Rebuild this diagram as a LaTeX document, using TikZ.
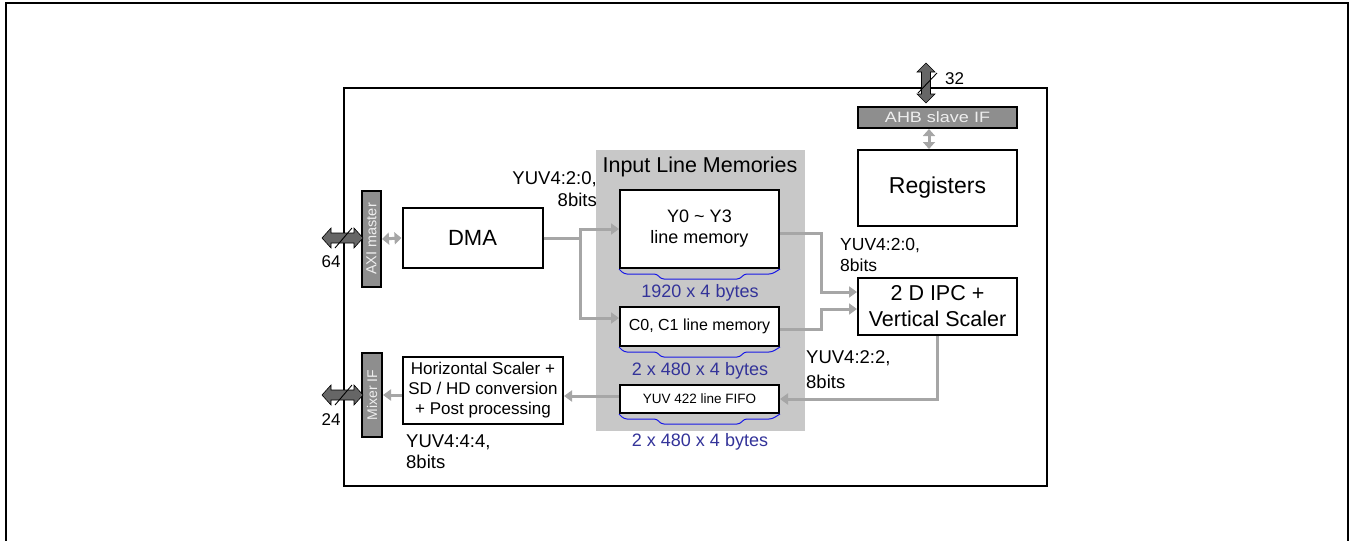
\documentclass[tikz,border=0pt]{standalone}
\usepackage{fontspec}
\setmainfont{Liberation Sans}
\usetikzlibrary{arrows.meta,calc}
\definecolor{conngray}{HTML}{A6A6A6}
\definecolor{bargray}{HTML}{8E8E8E}
\definecolor{bartext}{HTML}{EEEEEE}
\definecolor{bigarr}{HTML}{666666}
\definecolor{memback}{HTML}{C8C8C8}
\definecolor{sizeblue}{HTML}{333399}
\definecolor{wavecol}{HTML}{1A1AE6}
\newcommand{\fs}[2]{\fontsize{#1}{#2}\selectfont}
\newcommand{\memwave}[1]{\draw[wavestyle] (#1.south west) -- ++(5,5) -- ++(33,0) -- ++(4,5) -- ++(79,0) -- ++(4,-5) -- ++(28,0) -- (#1.south east);}
\begin{document}
\begin{tikzpicture}[x=1pt,y=-1pt,
  blk/.style={draw=black,line width=2pt,fill=white,inner sep=0pt,align=center},
  bar/.style={draw=black,line width=2pt,fill=bargray,inner sep=0pt,text=bartext},
  connline/.style={draw=conngray,line width=3pt},
  conn/.style={connline,-{Triangle[length=8pt,width=11pt]}},
  smallbi/.style={draw=conngray,line width=3pt,{Triangle[length=7pt,width=12pt]}-{Triangle[length=7pt,width=12pt]}},
  lbl/.style={inner sep=0pt,font=\fs{18}{21}},
  sizelbl/.style={inner sep=0pt,text=sizeblue,font=\fs{18}{21}},
  wavestyle/.style={draw=wavecol,line width=1pt,rounded corners=3pt},
  hbig/.pic={
    \filldraw[fill=bigarr,draw=black,line width=0.6pt] (-20.5,0) -- (-11.5,-10) -- (-11.5,-5) -- (11.5,-5) -- (11.5,-10) -- (20.5,0) -- (11.5,10) -- (11.5,5) -- (-11.5,5) -- (-11.5,10) -- cycle;
    \draw[line width=0.9pt] (-7.5,10) -- (9.5,-10);},
  vbig/.pic={
    \filldraw[fill=bigarr,draw=black,line width=0.6pt] (0,-20) -- (9,-11) -- (4.5,-11) -- (4.5,11) -- (9,11) -- (0,20) -- (-9,11) -- (-4.5,11) -- (-4.5,-11) -- (-9,-11) -- cycle;
    \draw[line width=0.9pt] (-8,10) -- (11,-10);}
]
\useasboundingbox (0,0) rectangle (1353,541);
% outer frame of the image
\draw[line width=2pt] (6,545) -- (6,3) -- (1348,3) -- (1348,545);
% chip frame
\draw[line width=2pt] (344,88) rectangle (1047,486);
% input line memory background
\fill[memback] (596,150) rectangle (805,431);
\node[lbl,font=\fs{21.5}{24}] (imtitle) at (700,167) {Input Line Memories};

% blocks
\node[blk,minimum width=140,minimum height=60,font=\fs{22}{26}] (dma) at (472.5,238) {DMA};
\node[blk,minimum width=159,minimum height=78,font=\fs{18}{21}] (y0) at (699.5,229) {Y0 \textasciitilde{} Y3\\line memory};
\node[blk,minimum width=159,minimum height=39,font=\fs{16}{19}] (c0) at (699.5,326.5) {C0, C1 line memory};
\node[blk,minimum width=159,minimum height=28,font=\fs{13.5}{16}] (fifo) at (699.5,399) {YUV 422 line FIFO};
\node[blk,minimum width=159,minimum height=76,font=\fs{23}{27}] (reg) at (937.5,188) {Registers};
\node[blk,minimum width=159,minimum height=57,font=\fs{21.5}{26}] (ipc) at (937.5,306.5) {2 D IPC +\\Vertical Scaler};
\node[blk,minimum width=160,minimum height=67,font=\fs{17}{20}] (hs) at (483,390.5) {Horizontal Scaler +\\SD / HD conversion\\+ Post processing};

% interface bars
\node[bar,minimum width=159,minimum height=21] (ahb) at (937.5,117.5) {\fs{15}{18}\scalebox{1.2}[1]{AHB slave IF}};
\node[bar,minimum width=19,minimum height=96] (axi) at (371.5,239) {};
\node[rotate=90,text=bartext,inner sep=0pt,font=\fs{14.5}{16}] (axitext) at (axi.center) {AXI master};
\node[bar,minimum width=20,minimum height=84] (mix) at (372,395) {};
\node[rotate=90,text=bartext,inner sep=0pt,font=\fs{14}{16}] (mixtext) at (mix.center) {Mixer IF};

% memory size braces
\memwave{y0}
\memwave{c0}
\memwave{fifo}
\node[sizelbl] (s1) at (700,293) {1920 x 4 bytes};
\node[sizelbl] (s2) at (700,371) {2 x 480 x 4 bytes};
\node[sizelbl] (s3) at (700,442) {2 x 480 x 4 bytes};

% external buses
\pic at (342.5,238) {hbig};
\pic at (342.5,395) {hbig};
\pic at (926,83) {vbig};
\node[lbl,font=\fs{17}{20}] (w64) at (331,262) {64};
\node[lbl,font=\fs{17}{20}] (w24) at (331,420) {24};
\node[lbl,font=\fs{17}{20},anchor=west] (w32) at (945,79) {32};

% small bidirectional links
\coordinate (ahbo) at ($(ahb.south)+(-8.5,0)$);
\coordinate (regi) at ($(reg.north)+(-8.5,0)$);
\draw[smallbi] (axi.east) -- (dma.west);
\draw[smallbi] (ahbo) -- (regi);

% data path connectors
\coordinate (j1) at (580,238);
\draw[connline] (dma.east) -- (j1);
\draw[conn] (j1) |- (y0.west);
\coordinate (c0in) at ($(c0.west)+(0,-8.5)$);
\draw[conn] (j1) |- (c0in);

\coordinate (bendx) at (821,0);
\coordinate (y0out) at ($(y0.east)+(0,4)$);
\coordinate (ipcin1) at ($(ipc.west)+(0,-14.5)$);
\draw[conn] (y0out) -| (ipcin1 -| bendx) -- (ipcin1);
\coordinate (c0out) at ($(c0.east)+(0,2.5)$);
\coordinate (ipcin2) at ($(ipc.west)+(0,2.5)$);
\draw[conn] (c0out) -| (ipcin2 -| bendx) -- (ipcin2);

\draw[conn] (ipc.south) |- (fifo.east);
\coordinate (fifoout) at ($(fifo.west)+(0,-3)$);
\draw[conn] (fifoout) -- (fifoout -| hs.east);
\draw[conn] (hs.west |- mix.east) -- (mix.east);

% format labels
\node[lbl,align=right,anchor=east,font=\fs{18.5}{22}] (f1) at (597,189.5) {YUV4:2:0,\\8bits};
\node[lbl,align=left,anchor=west,font=\fs{17.5}{21}] (f2) at (840,255) {YUV4:2:0,\\8bits};
\node[lbl,align=left,anchor=west,font=\fs{18.5}{25}] (f3) at (806,370) {YUV4:2:2,\\8bits};
\node[lbl,align=left,anchor=west,font=\fs{18.5}{21}] (f4) at (406,452) {YUV4:4:4,\\8bits};
\end{tikzpicture}
\end{document}
